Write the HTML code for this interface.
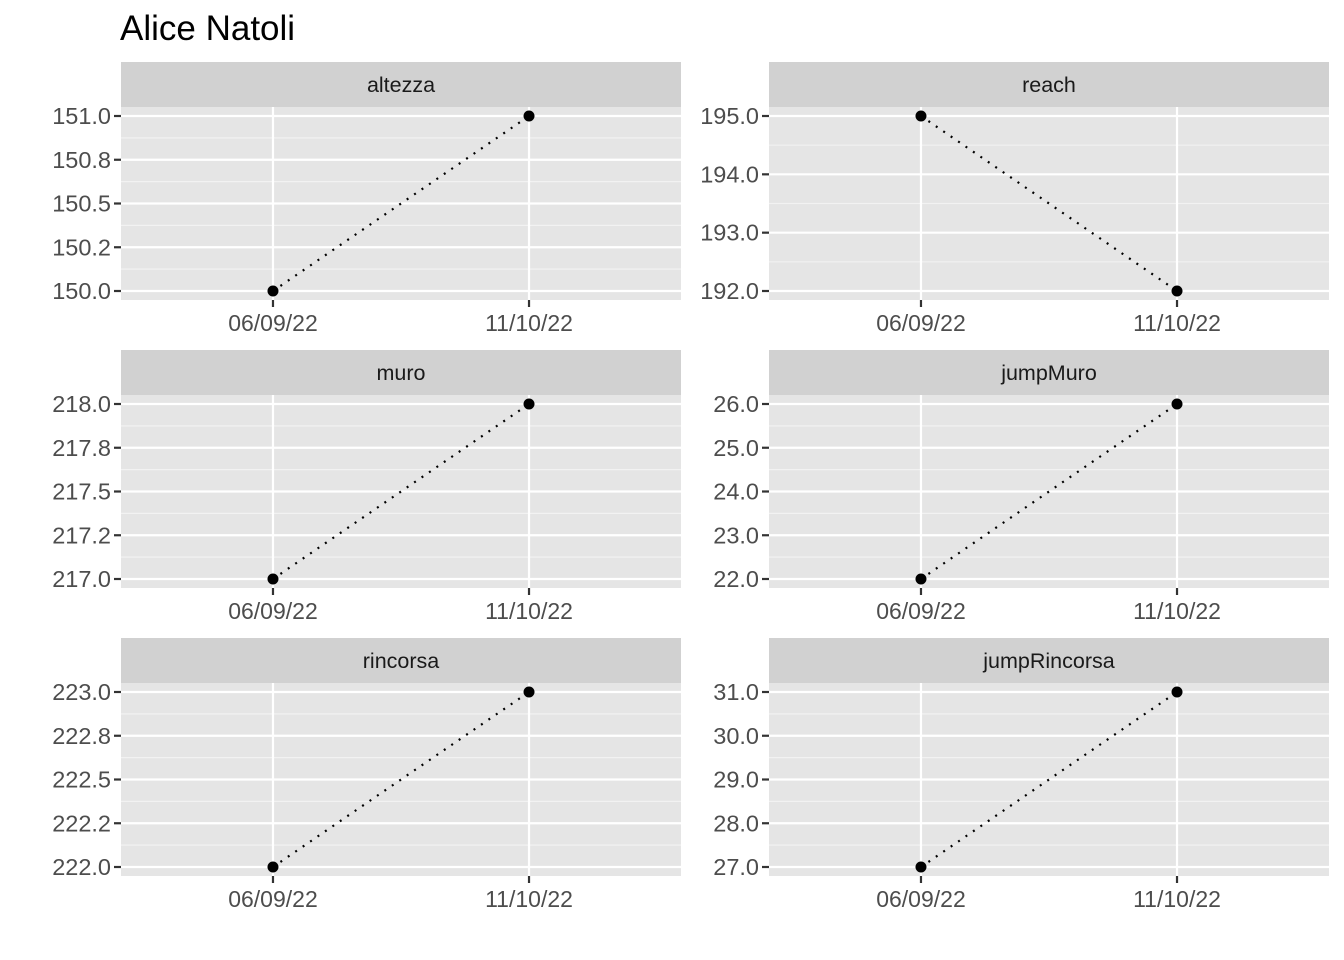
<!DOCTYPE html>
<html><head><meta charset="utf-8"><style>
body{margin:0;background:#fff}
svg{display:block;font-family:"Liberation Sans",Arial,sans-serif}
</style></head><body>
<svg id="c" width="1344" height="960">
<text x="120" y="40" font-size="35" fill="#000">Alice Natoli</text>
</svg>
<script>
const panelNames=["altezza","reach","muro","jumpMuro","rincorsa","jumpRincorsa"];
const dates=["06/09/22","11/10/22"];
const valAltezza=[150,151];
const valReach=[195,192];
const valMuro=[217,218];
const valJumpMuro=[22,26];
const valRincorsa=[222,223];
const valJumpRincorsa=[27,31];
const tickAltezza=[150,150.25,150.5,150.75,151];
const tickReach=[192,193,194,195];
const tickMuro=[217,217.25,217.5,217.75,218];
const tickJumpMuro=[22,23,24,25,26];
const tickRincorsa=[222,222.25,222.5,222.75,223];
const tickJumpRincorsa=[27,28,29,30,31];
const labAltezza=["150.0","150.2","150.5","150.8","151.0"];
const labReach=["192.0","193.0","194.0","195.0"];
const labMuro=["217.0","217.2","217.5","217.8","218.0"];
const labJumpMuro=["22.0","23.0","24.0","25.0","26.0"];
const labRincorsa=["222.0","222.2","222.5","222.8","223.0"];
const labJumpRincorsa=["27.0","28.0","29.0","30.0","31.0"];
const series=[valAltezza,valReach,valMuro,valJumpMuro,valRincorsa,valJumpRincorsa];
const ticks=[tickAltezza,tickReach,tickMuro,tickJumpMuro,tickRincorsa,tickJumpRincorsa];
const labs=[labAltezza,labReach,labMuro,labJumpMuro,labRincorsa,labJumpRincorsa];
const svg=document.getElementById('c');
const NS="http://www.w3.org/2000/svg";
function mk(tag,attrs,parent){const e=document.createElementNS(NS,tag);for(const k in attrs)e.setAttribute(k,attrs[k]);(parent||svg).appendChild(e);return e;}
const colX=[121,769],rowY=[62,350,638],W=560,SH=45,PH=193;
panelNames.forEach((name,i)=>{
  const x0=colX[i%2],y0=rowY[Math.floor(i/2)],py=y0+SH;
  const g=mk('g',{});
  
  
  const st=mk('rect',{x:x0,y:y0,width:W,height:SH,fill:'#d1d1d1'},g);
  
  const stt=mk('text',{x:x0+W/2,y:y0+30,'font-size':21.5,'text-anchor':'middle',fill:'#1a1a1a'},g);stt.textContent=name;
  
  mk('rect',{x:x0,y:py,width:W,height:PH,fill:'#e5e5e5'},g);
  const vals=series[i],tk=ticks[i],lb=labs[i];
  const lo=Math.min(...vals),hi=Math.max(...vals);
  const ys=v=>py+PH-9-(v-lo)/(hi-lo)*175;
  const xs=j=>x0+W*(0.5-0.2286)+j*W*0.4572;
  for(let k=0;k<tk.length-1;k++){const m=(tk[k]+tk[k+1])/2;mk('line',{x1:x0,x2:x0+W,y1:ys(m),y2:ys(m),stroke:'#f2f2f2','stroke-width':1.2},g);}
  tk.forEach((t,k)=>{
    const y=ys(t);
    mk('line',{x1:x0,x2:x0+W,y1:y,y2:y,stroke:'#fff','stroke-width':2.2},g);
    mk('line',{x1:x0-7,x2:x0,y1:y,y2:y,stroke:'#333','stroke-width':2.2},g);
    const t2=mk('text',{x:x0-10,y:y+8,'font-size':23.5,'text-anchor':'end',fill:'#4d4d4d'},g);
    t2.textContent=lb[k];
    
  });
  dates.forEach((d,j)=>{
    const x=xs(j);
    mk('line',{x1:x,x2:x,y1:py,y2:py+PH,stroke:'#fff','stroke-width':2.2},g);
    mk('line',{x1:x,x2:x,y1:py+PH,y2:py+PH+7,stroke:'#333','stroke-width':2.2},g);
    const t2=mk('text',{x:x,y:py+PH+31,'font-size':23,'text-anchor':'middle',fill:'#4d4d4d'},g);
    t2.textContent=d;
    
  });
  const ln=mk('line',{x1:xs(0),y1:ys(vals[0]),x2:xs(1),y2:ys(vals[1]),stroke:'#000','stroke-width':2.2,'stroke-dasharray':'2 7'},g);
  
  vals.forEach((v,j)=>{
    const p=mk('circle',{cx:xs(j),cy:ys(v),r:5.5,fill:'#000'},g);
    
    
  });
});
</script>
</body></html>
